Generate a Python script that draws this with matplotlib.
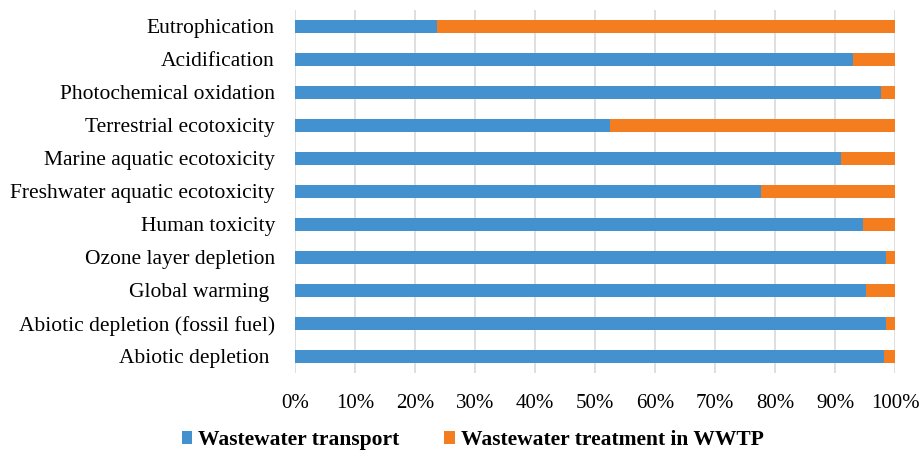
import matplotlib.pyplot as plt
import numpy as np

plt.rcParams['font.family'] = ['Liberation Serif', 'DejaVu Serif']

# impact categories, top to bottom
categories = ['Eutrophication', 'Acidification', 'Photochemical oxidation',
              'Terrestrial ecotoxicity', 'Marine aquatic ecotoxicity',
              'Freshwater aquatic ecotoxicity', 'Human toxicity',
              'Ozone layer depletion', 'Global warming ',
              'Abiotic depletion (fossil fuel)', 'Abiotic depletion ']

# share of each impact (%)
transport = [23.7, 93.0, 97.7, 52.4, 90.9, 77.7, 94.6, 98.4, 95.2, 98.4, 98.2]
treatment = [100 - v for v in transport]

series_names = ['Wastewater transport', 'Wastewater treatment in WWTP']
tick_values = np.arange(0, 101, 10)
tick_labels = ['{}%'.format(v) for v in tick_values]

blue = '#4392CF'
orange = '#F47D20'

fig = plt.figure(figsize=(9.22, 4.51), dpi=100)
ax = fig.add_axes([0.32, 0.173, 0.651, 0.805])

y = np.arange(len(categories))[::-1]
ax.barh(y, transport, height=0.4, color=blue, label=series_names[0], zorder=3)
ax.barh(y, treatment, left=transport, height=0.4, color=orange,
        label=series_names[1], zorder=3)

ax.set_xlim(0, 100)
ax.set_ylim(-0.5, len(categories) - 0.5)
ax.set_yticks(y)
ax.set_yticklabels(categories, fontsize=15.5)
ax.set_xticks(tick_values)
ax.set_xticklabels(tick_labels, fontsize=15)
ax.tick_params(length=0)
ax.tick_params(axis='y', pad=14.5)
ax.tick_params(axis='x', pad=15)

ax.grid(axis='x', color='#d9d9d9', linewidth=1.2, zorder=0)
for s in ax.spines.values():
    s.set_visible(False)

ax.legend(loc='center', bbox_to_anchor=(0.5125, 0.024),
          bbox_transform=fig.transFigure, ncol=2, frameon=False,
          prop={'weight': 'bold', 'size': 15.5}, handlelength=0.5,
          handleheight=0.5, handletextpad=0.28, columnspacing=2.05,
          borderpad=0)

fig.savefig('out.png', dpi=100)
